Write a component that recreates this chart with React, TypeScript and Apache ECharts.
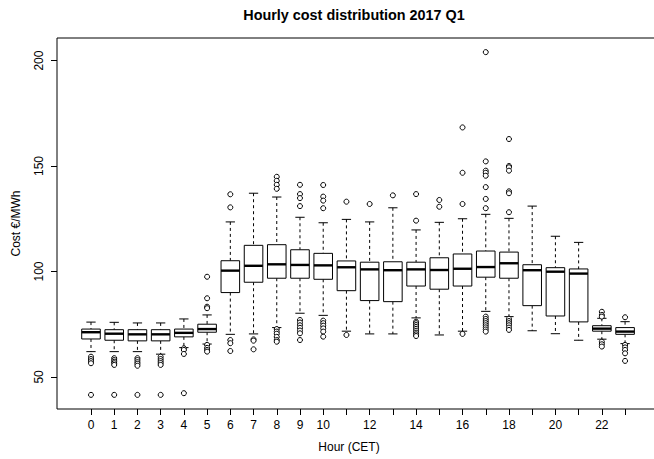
import React, { useEffect, useRef } from "react";
import * as echarts from "echarts";

const hours = [0, 1, 2, 3, 4, 5, 6, 7, 8, 9, 10, 11, 12, 13, 14, 15, 16, 17, 18, 19, 20, 21, 22, 23];
const whiskerLow = [62.0, 62.0, 62.0, 60.8, 63.9, 65.6, 70.2, 70.4, 73.4, 80.2, 79.2, 71.7, 70.4, 70.4, 78.0, 69.9, 71.7, 81.1, 78.6, 71.9, 70.5, 67.4, 67.9, 65.8];
const quart1 = [68.0, 67.4, 67.1, 67.1, 69.0, 71.2, 90.0, 94.9, 96.8, 96.8, 96.3, 90.9, 86.2, 85.7, 93.1, 91.6, 93.1, 97.3, 96.8, 83.8, 78.9, 76.1, 71.7, 70.2];
const medians = [71.2, 70.5, 70.2, 70.2, 70.9, 72.7, 100.4, 102.7, 103.4, 103.1, 102.9, 102.0, 101.0, 100.6, 101.0, 100.7, 101.3, 102.1, 103.9, 100.6, 99.9, 99.0, 72.9, 71.5];
const quart3 = [72.7, 72.4, 72.4, 72.4, 72.7, 75.0, 105.1, 112.4, 112.7, 110.3, 108.6, 105.0, 104.4, 104.6, 104.4, 106.5, 108.3, 109.7, 109.2, 103.2, 101.8, 101.2, 74.3, 73.4];
const whiskerHigh = [76.0, 75.9, 75.6, 75.6, 77.5, 79.4, 123.5, 137.1, 135.3, 125.7, 123.1, 124.7, 123.5, 130.2, 119.7, 123.3, 125.0, 127.1, 125.2, 131.0, 116.7, 113.8, 77.8, 76.2];
const outliers: number[][] = [
  [59.6, 58.5, 57.5, 56.5, 41.5],
  [58.9, 58.0, 57.2, 56.5, 55.7, 41.5],
  [58.9, 58.0, 57.0, 56.2, 55.3, 41.5],
  [59.6, 58.5, 57.5, 56.6, 55.7, 41.5],
  [63.6, 62.8, 60.9, 42.3],
  [97.5, 87.3, 83.3, 82.6, 65.2, 63.8, 62.8, 62.0],
  [136.6, 130.4, 67.5, 66.0, 62.3],
  [67.8, 67.2, 63.1],
  [144.9, 143.0, 141.1, 139.2, 72.7, 71.5, 70.5, 69.0, 67.5, 66.7],
  [141.1, 136.7, 134.8, 131.0, 77.0, 75.8, 74.5, 73.3, 72.0, 70.7, 67.5],
  [141.0, 135.5, 133.6, 130.0, 76.7, 75.5, 74.3, 73.0, 71.5, 69.1],
  [133.1, 69.9],
  [132.0],
  [136.1],
  [136.7, 124.1, 76.2, 75.5, 74.6, 73.7, 72.8, 71.9, 71.0, 70.2, 69.4],
  [133.9, 130.7],
  [168.3, 146.8, 132.0, 70.4],
  [204.0, 152.2, 147.8, 146.8, 145.4, 140.0, 134.4, 130.0, 78.6, 77.5, 76.5, 75.5, 74.5, 73.5, 72.5, 71.5],
  [162.8, 150.0, 149.4, 147.8, 138.0, 137.1, 128.1, 77.6, 76.5, 75.5, 74.5, 73.4, 72.3],
  [],
  [],
  [],
  [80.9, 79.4, 78.6, 66.7, 65.5, 64.4],
  [78.3, 65.2, 64.0, 62.8, 61.2, 57.6],
];
const xTickValues = hours;
const xLabelValues = [0, 1, 2, 3, 4, 5, 6, 7, 8, 9, 10, 12, 14, 16, 18, 20, 22];
const yTickValues = [50, 100, 150, 200];

const FONT = "'Liberation Sans', Arial, Helvetica, sans-serif";

export default function App() {
  const ref = useRef<HTMLDivElement>(null);
  useEffect(() => {
    if (!ref.current) return;
    const chart = echarts.init(ref.current, null, { renderer: "svg" });
    const boxData = hours.map((h, i) => [h, whiskerLow[i], quart1[i], medians[i], quart3[i], whiskerHigh[i]]);
    const outlierData: number[][] = [];
    hours.forEach((h, i) => outliers[i].forEach((v) => outlierData.push([h, v])));

    chart.setOption({
      animation: false,
      backgroundColor: "#fff",
      textStyle: { fontFamily: FONT },
      title: {
        text: "Hourly cost distribution 2017 Q1",
        left: 349,
        top: 3,
        textAlign: "center",
        textStyle: { fontFamily: FONT, fontSize: 14.4, fontWeight: "bold", color: "#000" },
      },
      grid: {
        left: 57,
        top: 38,
        width: 620,
        height: 371,
        outerBoundsMode: "none",
        containLabel: false,
        show: true,
        borderColor: "#000",
        borderWidth: 1,
        backgroundColor: "transparent",
      },
      xAxis: {
        type: "value",
        min: -1.464,
        max: 25.236,
        axisLine: { show: false, onZero: false },
        splitLine: { show: false },
        axisTick: { show: true, customValues: xTickValues, length: 6, lineStyle: { color: "#000" } },
        axisLabel: {
          customValues: xLabelValues,
          margin: 10,
          color: "#000",
          fontSize: 12,
          fontFamily: FONT,
        },
      },
      yAxis: {
        type: "value",
        min: 34.8,
        max: 210.7,
        axisLine: { show: false, onZero: false },
        splitLine: { show: false },
        axisTick: { show: true, customValues: yTickValues, length: 6, lineStyle: { color: "#000" } },
        axisLabel: {
          customValues: yTickValues,
          rotate: 90,
          margin: 12,
          color: "#000",
          fontSize: 12,
          fontFamily: FONT,
        },
        name: "Cost €/MWh",
        nameLocation: "middle",
        nameGap: 35,
        nameRotate: 90,
        nameTextStyle: { color: "#000", fontSize: 12, fontFamily: FONT },
      },
      graphic: [
        {
          type: "text",
          x: 349,
          y: 447,
          style: {
            text: "Hour (CET)",
            textAlign: "center",
            textVerticalAlign: "middle",
            fontSize: 12,
            fontFamily: FONT,
            fill: "#000",
          },
        },
      ],
      series: [
        {
          type: "custom",
          data: boxData,
          encode: { x: 0, y: [1, 2, 3, 4, 5] },
          renderItem: (params: any, api: any) => {
            const x = api.value(0);
            const lo = api.coord([x, api.value(1)]);
            const q1 = api.coord([x, api.value(2)]);
            const md = api.coord([x, api.value(3)]);
            const q3 = api.coord([x, api.value(4)]);
            const hi = api.coord([x, api.value(5)]);
            const cx = lo[0];
            const hw = api.size([0.4, 0])[0];
            const cw = api.size([0.2, 0])[0];
            const dash = { stroke: "#000", lineWidth: 1, lineDash: [3, 3] };
            const solid = { stroke: "#000", lineWidth: 1 };
            return {
              type: "group",
              children: [
                { type: "line", shape: { x1: cx, y1: hi[1], x2: cx, y2: q3[1] }, style: dash },
                { type: "line", shape: { x1: cx, y1: q1[1], x2: cx, y2: lo[1] }, style: dash },
                { type: "line", shape: { x1: cx - cw, y1: hi[1], x2: cx + cw, y2: hi[1] }, style: solid },
                { type: "line", shape: { x1: cx - cw, y1: lo[1], x2: cx + cw, y2: lo[1] }, style: solid },
                {
                  type: "rect",
                  shape: { x: cx - hw, y: q3[1], width: 2 * hw, height: q1[1] - q3[1] },
                  style: { fill: "#fff", stroke: "#000", lineWidth: 1 },
                },
                { type: "line", shape: { x1: cx - hw, y1: md[1], x2: cx + hw, y2: md[1] }, style: { stroke: "#000", lineWidth: 2.4 } },
              ],
            };
          },
          z: 2,
        },
        {
          type: "scatter",
          data: outlierData,
          symbol: "circle",
          symbolSize: 5,
          itemStyle: { color: "#fff", borderColor: "#000", borderWidth: 1, opacity: 1 },
          z: 3,
        },
      ],
    });
    return () => chart.dispose();
  }, []);
  return (
    <div
      ref={ref}
      style={{ position: "fixed", left: 0, top: 0, width: 654, height: 459, background: "#fff" }}
    />
  );
}
